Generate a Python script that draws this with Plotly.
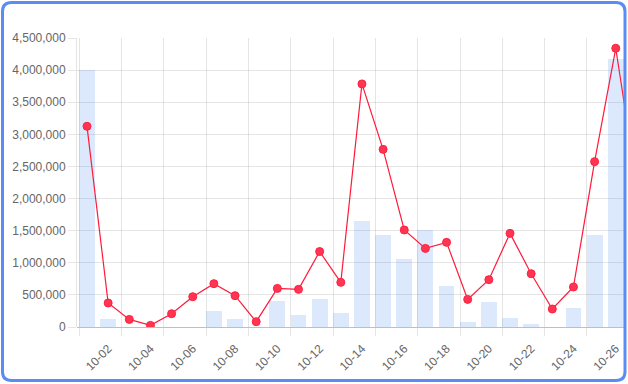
import plotly.graph_objects as go

dates = ["10-01", "10-02", "10-03", "10-04", "10-05", "10-06", "10-07", "10-08", "10-09",
         "10-10", "10-11", "10-12", "10-13", "10-14", "10-15", "10-16", "10-17", "10-18",
         "10-19", "10-20", "10-21", "10-22", "10-23", "10-24", "10-25", "10-26", "10-27"]
bar_values = [4000000, 130000, 0, 0, 0, 0, 250000, 130000, 0,
              405000, 190000, 430000, 220000, 1650000, 1430000, 1060000, 1510000, 635000,
              80000, 383000, 140000, 50000, 0, 290000, 1430000, 4170000, None]
line_values = [3125000, 374000, 118000, 25000, 207000, 472000, 675000, 488000, 83000,
               601000, 586000, 1175000, 695000, 3785000, 2766000, 1511000, 1224000, 1318000,
               430000, 737000, 1458000, 830000, 280000, 623000, 2575000, 4340000, 2200000]
y_ticks = [0, 500000, 1000000, 1500000, 2000000, 2500000, 3000000, 3500000, 4000000, 4500000]

W, H = 628, 384
ML, MR, MT, MB = 77, 2, 38, 57
idx = list(range(len(dates)))

# pixel geometry of the category axis
c0_px, step_px = 87.0, 21.15
x_range = [(ML - c0_px) / step_px, (W - MR - c0_px) / step_px]
grid_pos = [-0.364 + 2 * k for k in range(13)]
label_pos = [i for i in idx if i % 2 == 1]
label_txt = [dates[i] for i in label_pos]

grid_c = "rgba(0,0,0,0.1)"
font = dict(family="Liberation Sans, Arial, Helvetica, sans-serif", size=12, color="#666666")

fig = go.Figure()
fig.add_trace(go.Bar(x=idx, y=bar_values, width=0.75,
                     marker=dict(color="rgba(80,140,240,0.2)", line=dict(width=0)),
                     xaxis="x", yaxis="y", hoverinfo="skip"))
fig.add_trace(go.Scatter(x=idx, y=line_values, mode="lines+markers",
                         line=dict(color="#ff1a3a", width=1.2),
                         marker=dict(size=8, color="#ff3552", line=dict(width=1, color="#ff1f40")),
                         xaxis="x2", yaxis="y", cliponaxis=True))

fig.update_layout(
    template="none",
    width=W, height=H,
    margin=dict(l=ML, r=MR, t=MT, b=MB, pad=0),
    paper_bgcolor="white", plot_bgcolor="white",
    showlegend=False, font=font, bargap=0,
    xaxis=dict(range=x_range, tickmode="array", tickvals=grid_pos, showticklabels=False,
               ticks="outside", ticklen=8, tickcolor=grid_c, tickwidth=1,
               showgrid=True, gridcolor=grid_c, gridwidth=1,
               showline=False, zeroline=False, fixedrange=True),
    xaxis2=dict(range=x_range, overlaying="x", side="bottom", tickmode="array",
                tickvals=label_pos, ticktext=label_txt, tickangle=-45,
                ticks="outside", ticklen=9, tickcolor="rgba(0,0,0,0)",
                showgrid=False, zeroline=False, showline=False, tickfont=font),
    yaxis=dict(range=[0, 4500000], tickmode="array", tickvals=y_ticks, tickformat=",d",
               ticks="outside", ticklen=8, tickcolor=grid_c, tickwidth=1,
               showgrid=True, gridcolor=grid_c, gridwidth=1, zeroline=True,
               zerolinecolor="rgba(0,0,0,0.25)", zerolinewidth=1,
               showline=True, linecolor=grid_c, linewidth=1, tickfont=font),
)

# rounded container border, in paper coordinates
pw, ph = W - ML - MR, H - MT - MB
def px(x):
    return (x - ML) / pw
def py(y):
    return (H - MB - y) / ph
L, T, R, B, r = 2.5, 2.5, 625.0, 380.5, 9
path = (f"M {px(L + r)} {py(T)} L {px(R - r)} {py(T)} Q {px(R)} {py(T)} {px(R)} {py(T + r)} "
        f"L {px(R)} {py(B - r)} Q {px(R)} {py(B)} {px(R - r)} {py(B)} "
        f"L {px(L + r)} {py(B)} Q {px(L)} {py(B)} {px(L)} {py(B - r)} "
        f"L {px(L)} {py(T + r)} Q {px(L)} {py(T)} {px(L + r)} {py(T)} Z")
fig.add_shape(type="path", path=path, xref="paper", yref="paper",
              line=dict(color="#5b8cf5", width=3), layer="above")

fig.write_html("out.html")
